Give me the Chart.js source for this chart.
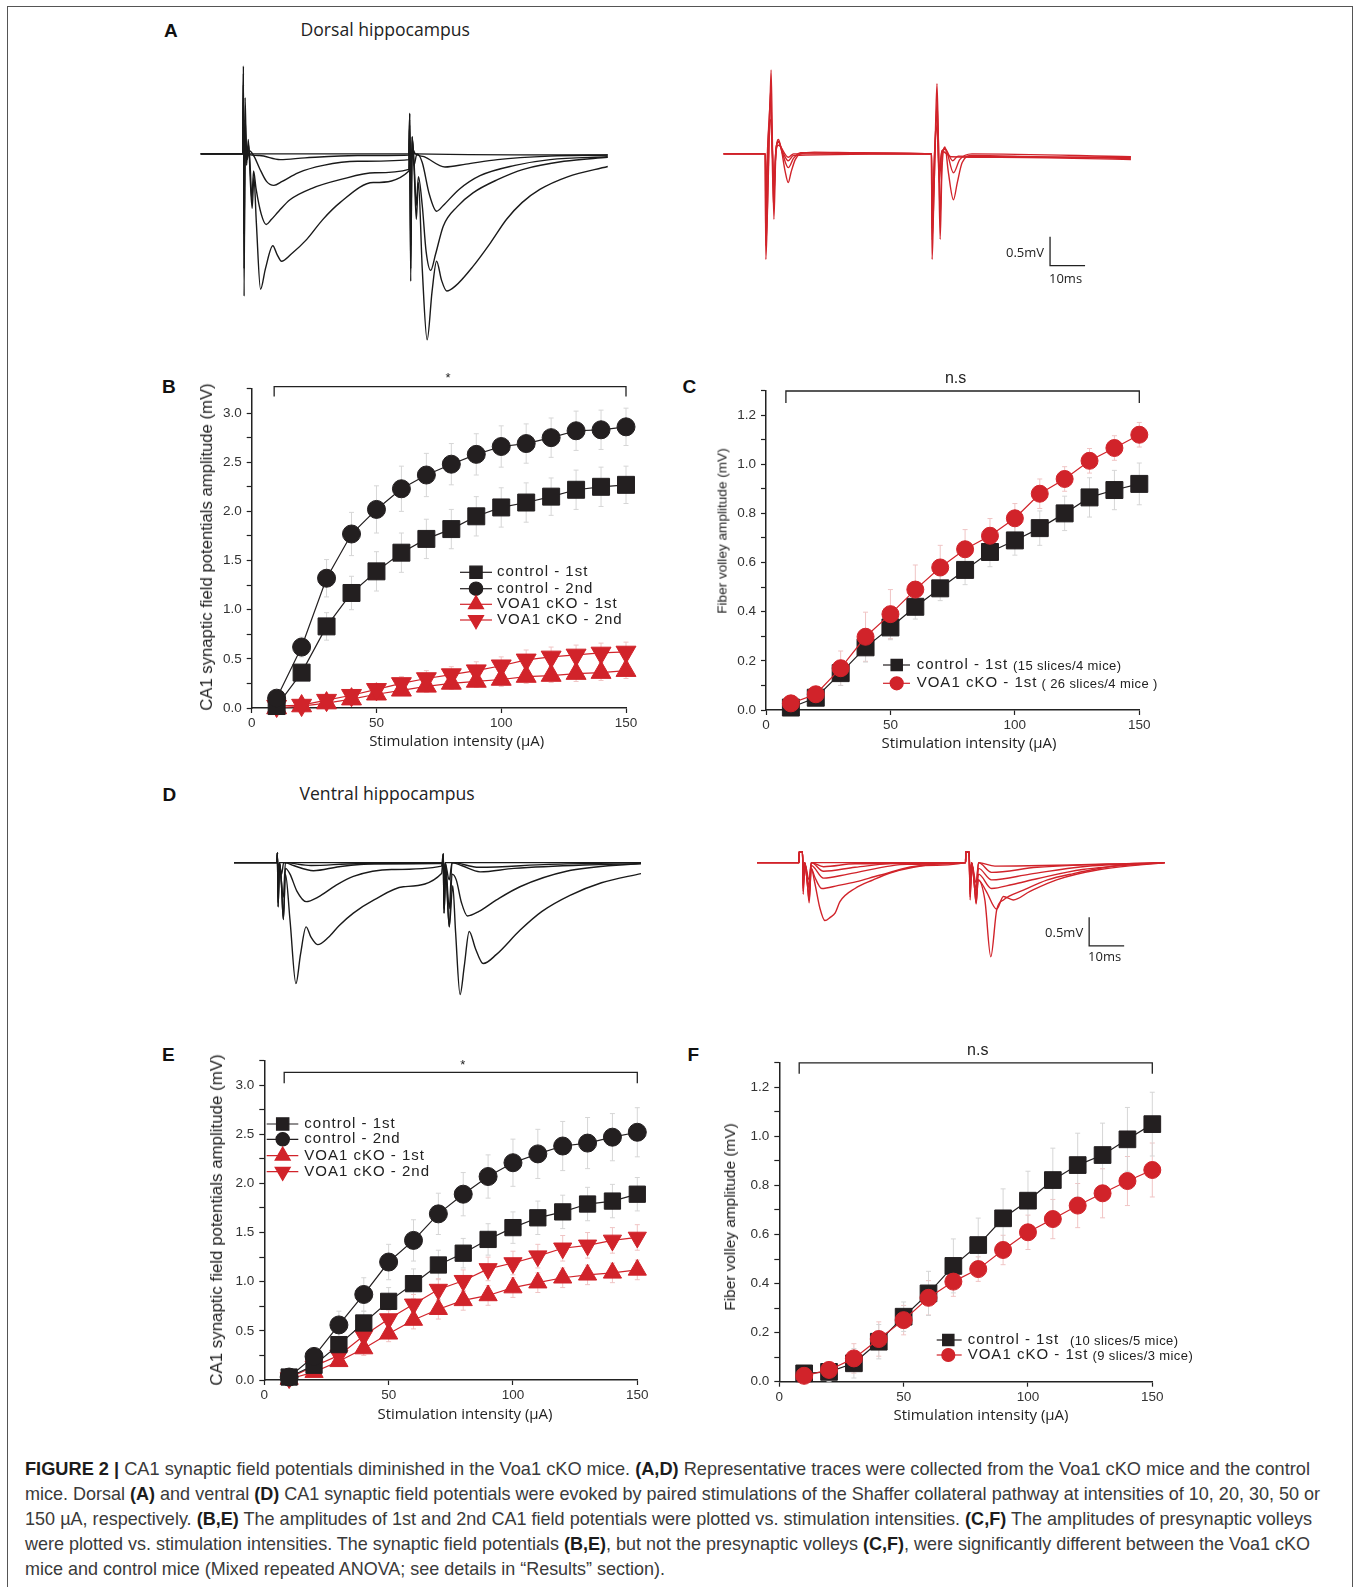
<!DOCTYPE html>
<html>
<head>
<meta charset="utf-8">
<script src="https://cdn.jsdelivr.net/npm/chart.js@4.4.1/dist/chart.umd.min.js"></script>
<style>
  body { margin: 0; background: #fff; width: 1356px; height: 1587px; position: relative; overflow: hidden; font-family: "Liberation Sans", Arial, sans-serif; }
  .frame { position: absolute; left: 7px; top: 6px; width: 1344px; height: 1620px; border: 1.5px solid #555; }
  canvas { position: absolute; }
  .lbl { position: absolute; font-weight: bold; font-size: 19px; line-height: 19px; color: #111; }
  .head { position: absolute; font-family: "Open Sans", sans-serif; font-size: 17.6px; line-height: 17.6px; color: #222; white-space: nowrap; }
  .xt { position: absolute; font-family: "Open Sans", sans-serif; font-size: 15px; color: #222; white-space: nowrap; transform: translate(-50%, -50%); }
  .yt { position: absolute; color: #222; white-space: nowrap; transform: translate(-50%, -50%) rotate(-90deg); }
  .cap { position: absolute; left: 25px; top: 1455.8px; font-size: 19px; line-height: 25px; color: #3a3a3a; }
  .cap div { white-space: nowrap; transform-origin: 0 50%; width: max-content; }
  .cap b { color: #1c1c1c; }
</style>
</head>
<body>
<div class="frame"></div>

<div class="lbl" style="left:164px;top:21px">A</div>
<div class="head" style="left:300.5px;top:21px">Dorsal hippocampus</div>
<div class="lbl" style="left:162px;top:377.2px">B</div>
<div class="lbl" style="left:682.5px;top:377.2px">C</div>
<div class="lbl" style="left:162.5px;top:784.7px">D</div>
<div class="head" style="left:299.5px;top:785.2px">Ventral hippocampus</div>
<div class="lbl" style="left:162px;top:1044.6px">E</div>
<div class="lbl" style="left:687.5px;top:1044.6px">F</div>

<canvas id="traceA1"></canvas>
<canvas id="traceA2"></canvas>
<canvas id="traceD1"></canvas>
<canvas id="traceD2"></canvas>
<canvas id="chartB"></canvas>
<canvas id="chartC"></canvas>
<canvas id="chartE"></canvas>
<canvas id="chartF"></canvas>

<div class="yt" style="left:206.7px;top:546.7px;font-size:16.7px">CA1 synaptic field potentials amplitude (mV)</div>
<div class="xt" style="left:456.7px;top:740px">Stimulation intensity (μA)</div>
<div class="yt" style="left:721.7px;top:530.5px;font-size:13.6px">Fiber volley amplitude (mV)</div>
<div class="xt" style="left:969px;top:741.7px">Stimulation intensity (μA)</div>
<div class="yt" style="left:216.7px;top:1220px;font-size:16.9px">CA1 synaptic field potentials amplitude (mV)</div>
<div class="xt" style="left:465px;top:1412.7px">Stimulation intensity (μA)</div>
<div class="yt" style="left:730px;top:1217px;font-size:15.4px">Fiber volley amplitude (mV)</div>
<div class="xt" style="left:981px;top:1414px">Stimulation intensity (μA)</div>

<div class="cap">
  <div data-w="1285"><b>FIGURE 2 |</b> CA1 synaptic field potentials diminished in the Voa1 cKO mice. <b>(A,D)</b> Representative traces were collected from the Voa1 cKO mice and the control</div>
  <div data-w="1295">mice. Dorsal <b>(A)</b> and ventral <b>(D)</b> CA1 synaptic field potentials were evoked by paired stimulations of the Shaffer collateral pathway at intensities of 10, 20, 30, 50 or</div>
  <div data-w="1287">150 µA, respectively. <b>(B,E)</b> The amplitudes of 1st and 2nd CA1 field potentials were plotted vs. stimulation intensities. <b>(C,F)</b> The amplitudes of presynaptic volleys</div>
  <div data-w="1285">were plotted vs. stimulation intensities. The synaptic field potentials <b>(B,E)</b>, but not the presynaptic volleys <b>(C,F)</b>, were significantly different between the Voa1 cKO</div>
  <div data-w="640">mice and control mice (Mixed repeated ANOVA; see details in “Results” section).</div>
</div>

<script>
// stimulation intensities (µA)
const intensity = [10, 20, 30, 40, 50, 60, 70, 80, 90, 100, 110, 120, 130, 140, 150];

// B: dorsal CA1 field potentials (mV)
const dorsalCtrl1 = [0.02, 0.36, 0.83, 1.17, 1.39, 1.58, 1.72, 1.82, 1.95, 2.04, 2.09, 2.15, 2.22, 2.25, 2.27];
const dorsalCtrl1Err = [0.02, 0.07, 0.14, 0.17, 0.20, 0.20, 0.20, 0.20, 0.20, 0.20, 0.20, 0.19, 0.20, 0.20, 0.19];
const dorsalCtrl2 = [0.10, 0.62, 1.32, 1.77, 2.02, 2.23, 2.37, 2.48, 2.58, 2.66, 2.69, 2.75, 2.82, 2.83, 2.86];
const dorsalCtrl2Err = [0.03, 0.10, 0.19, 0.22, 0.24, 0.23, 0.22, 0.21, 0.21, 0.21, 0.20, 0.20, 0.20, 0.20, 0.19];
const dorsalKo1 = [0.00, 0.02, 0.05, 0.09, 0.14, 0.18, 0.22, 0.25, 0.27, 0.29, 0.32, 0.33, 0.35, 0.36, 0.38];
const dorsalKo1Err = [0.01, 0.02, 0.03, 0.04, 0.05, 0.05, 0.06, 0.06, 0.06, 0.07, 0.07, 0.07, 0.08, 0.08, 0.08];
const dorsalKo2 = [0.02, 0.03, 0.08, 0.13, 0.19, 0.25, 0.30, 0.34, 0.38, 0.43, 0.49, 0.52, 0.54, 0.56, 0.57];
const dorsalKo2Err = [0.01, 0.02, 0.04, 0.05, 0.06, 0.07, 0.08, 0.08, 0.09, 0.09, 0.10, 0.10, 0.10, 0.10, 0.10];

// C: dorsal fiber volley (mV)
const dorsalFvCtrl = [0.01, 0.05, 0.15, 0.255, 0.336, 0.42, 0.495, 0.57, 0.643, 0.69, 0.74, 0.80, 0.865, 0.895, 0.92];
const dorsalFvCtrlErr = [0.02, 0.03, 0.05, 0.06, 0.05, 0.05, 0.05, 0.06, 0.06, 0.06, 0.07, 0.07, 0.08, 0.08, 0.085];
const dorsalFvKo = [0.027, 0.064, 0.17, 0.298, 0.39, 0.49, 0.58, 0.654, 0.709, 0.78, 0.88, 0.94, 1.014, 1.066, 1.12];
const dorsalFvKoErr = [0.02, 0.03, 0.07, 0.10, 0.10, 0.10, 0.09, 0.08, 0.07, 0.06, 0.06, 0.05, 0.05, 0.05, 0.05];

// E: ventral CA1 field potentials (mV)
const ventralCtrl1 = [0.03, 0.15, 0.36, 0.58, 0.80, 0.98, 1.17, 1.29, 1.43, 1.55, 1.65, 1.71, 1.79, 1.82, 1.89];
const ventralCtrl1Err = [0.02, 0.05, 0.08, 0.12, 0.14, 0.15, 0.15, 0.15, 0.16, 0.16, 0.17, 0.17, 0.17, 0.17, 0.17];
const ventralCtrl2 = [0.03, 0.24, 0.56, 0.87, 1.20, 1.42, 1.69, 1.89, 2.07, 2.21, 2.30, 2.38, 2.41, 2.47, 2.52];
const ventralCtrl2Err = [0.03, 0.08, 0.14, 0.17, 0.18, 0.21, 0.21, 0.22, 0.22, 0.24, 0.25, 0.25, 0.26, 0.24, 0.25];
const ventralKo1 = [0.01, 0.08, 0.19, 0.32, 0.47, 0.61, 0.72, 0.81, 0.86, 0.94, 0.99, 1.04, 1.07, 1.09, 1.12];
const ventralKo1Err = [0.01, 0.03, 0.05, 0.07, 0.08, 0.09, 0.10, 0.10, 0.10, 0.10, 0.10, 0.10, 0.10, 0.10, 0.10];
const ventralKo2 = [0.02, 0.14, 0.25, 0.45, 0.62, 0.77, 0.92, 1.01, 1.13, 1.19, 1.26, 1.34, 1.37, 1.42, 1.45];
const ventralKo2Err = [0.01, 0.04, 0.06, 0.08, 0.09, 0.10, 0.11, 0.11, 0.12, 0.12, 0.12, 0.13, 0.13, 0.13, 0.13];

// F: ventral fiber volley (mV)
const ventralFvCtrl = [0.034, 0.04, 0.075, 0.163, 0.265, 0.36, 0.472, 0.557, 0.666, 0.738, 0.822, 0.883, 0.924, 0.988, 1.05];
const ventralFvCtrlErr = [0.02, 0.04, 0.06, 0.07, 0.06, 0.09, 0.11, 0.11, 0.12, 0.12, 0.13, 0.13, 0.13, 0.13, 0.13];
const ventralFvKo = [0.024, 0.048, 0.095, 0.174, 0.251, 0.342, 0.408, 0.459, 0.537, 0.609, 0.663, 0.718, 0.768, 0.818, 0.863];
const ventralFvKoErr = [0.02, 0.03, 0.06, 0.07, 0.06, 0.07, 0.06, 0.05, 0.06, 0.07, 0.08, 0.09, 0.10, 0.10, 0.11];

// example traces: [time ms, mV] key points
const dorsalCtrlTraces = [
  [[0.2,0],[12.2,0],[12.4,0.5],[12.6,-0.3],[13,0.05],[14,0],[59.7,0],[59.9,0.3],[60.2,-0.3],[60.6,0.02],[61.5,0],[116.5,-0.02]],
  [[0.2,0],[12.2,0],[12.4,0.9],[12.6,-0.8],[12.9,0.2],[13.5,0],[17,-0.03],[22.9,-0.1],[30,-0.07],[45,-0.03],[59.7,-0.02],[59.9,0.5],[60.2,-0.9],[60.6,0.1],[61.5,0],[64,-0.05],[70,-0.23],[76,-0.18],[85,-0.1],[100,-0.04],[116.5,-0.02]],
  [[0.2,0],[12.2,0],[12.4,1.2],[12.6,-1.4],[12.9,0.4],[13.4,-0.1],[14.2,0.05],[15.5,-0.05],[17,-0.25],[19,-0.48],[21.1,-0.55],[23.5,-0.48],[28,-0.33],[35.2,-0.2],[45,-0.13],[59.7,-0.1],[59.9,0.7],[60.2,-1.6],[60.6,0.3],[61.1,-0.2],[62,0],[63.5,-0.15],[65.5,-0.7],[67.6,-1.0],[69.5,-0.9],[74,-0.62],[80,-0.38],[90,-0.2],[100,-0.1],[116.5,-0.05]],
  [[0.2,0],[12.2,0],[12.4,1.4],[12.6,-2.0],[12.9,0.6],[13.4,-0.1],[13.9,0.15],[14.4,-0.3],[14.8,-0.8],[15.3,-0.3],[16,-0.6],[17.5,-1.05],[18.9,-1.23],[20.3,-1.15],[22.5,-1.0],[25.7,-0.8],[32,-0.6],[40,-0.45],[50,-0.33],[59.7,-0.27],[59.9,0.6],[60.2,-2.0],[60.6,0.3],[61.2,-0.2],[61.8,-0.9],[62.4,-0.4],[63.5,-0.9],[64.6,-1.7],[65.9,-2.03],[67.3,-1.75],[69.5,-1.26],[73.5,-0.92],[78,-0.68],[85,-0.45],[92.4,-0.27],[104,-0.13],[116.5,-0.06]],
  [[0.2,0],[12.2,0],[12.4,1.53],[12.6,-2.48],[12.9,0.98],[13.3,-0.2],[13.8,0.25],[14.4,-0.5],[14.9,-0.95],[15.4,-0.4],[16.1,-1.2],[17.3,-2.36],[18.7,-2.0],[20.8,-1.6],[22,-1.75],[23.3,-1.87],[26,-1.75],[30.5,-1.49],[35,-1.15],[40,-0.85],[49.5,-0.5],[59.7,-0.3],[59.9,0.71],[60.2,-2.22],[60.6,0.28],[61.2,-0.3],[61.8,-1.14],[62.4,-0.5],[63.5,-2.0],[64.9,-3.24],[66.3,-2.4],[67.6,-1.87],[69,-2.2],[70.5,-2.39],[73,-2.3],[78,-1.96],[83,-1.55],[87.6,-1.14],[92,-0.85],[97.1,-0.62],[105,-0.4],[116.5,-0.22]]
];
const dorsalKoTraces = [
  [[1,0],[12.9,0],[13.1,-1.84],[13.6,-0.9],[14.2,0.6],[14.6,1.46],[15.0,0.1],[15.4,-1.14],[15.9,-0.1],[16.7,0.25],[17.6,0.05],[18.6,-0.3],[19.5,-0.5],[20.3,-0.32],[21.5,-0.1],[23,0],[27,0.03],[40,0.02],[60.4,0],[60.6,-1.84],[61.0,-1.0],[61.6,0.5],[62.0,1.22],[62.4,0.2],[62.9,-1.49],[63.4,-0.3],[64.3,0.12],[65.2,-0.3],[66.7,-0.8],[67.8,-0.5],[69.2,-0.15],[72,-0.03],[90,-0.05],[117.4,-0.08]],
  [[1,0],[12.9,0],[13.1,-1.6],[13.6,-0.8],[14.2,0.8],[14.5,1.1],[14.9,0],[15.3,-0.9],[15.9,0],[16.7,0.22],[17.8,0.02],[19.5,-0.24],[21,-0.08],[23,0.02],[40,0.01],[60.4,0],[60.6,-1.5],[61.2,-0.5],[62.0,0.9],[62.5,0],[62.9,-1.1],[63.5,0],[64.3,0.1],[66.7,-0.33],[68.5,-0.1],[72,0],[117.4,-0.05]],
  [[1,0],[13.0,0],[13.1,-1.3],[13.6,0],[14.4,0.9],[15,0],[15.4,-0.7],[16,0.1],[16.7,0.2],[18,0.02],[19.5,-0.12],[21,-0.03],[60.5,0],[60.6,-1.3],[61.3,0],[62,0.7],[62.6,-0.5],[63.4,0.05],[64.3,0.08],[66.5,-0.12],[68,-0.04],[90,-0.06],[117.4,-0.06]],
  [[1,0],[13.0,0],[13.1,-1.0],[13.6,0.1],[14.4,0.6],[15,0],[15.4,-0.5],[16,0.05],[16.7,0.15],[19.5,-0.06],[21,0],[60.5,0],[60.6,-1.0],[61.3,0],[62,0.5],[62.6,-0.3],[63.4,0.05],[66,-0.05],[80,-0.06],[117.4,-0.1]]
];
const ventralCtrlTraces = [
  [[0,0],[12.3,0],[12.4,0.17],[12.6,-0.5],[12.9,0],[59.7,0],[59.8,0.15],[60,-0.5],[60.3,0],[116.3,0]],
  [[0,0],[12.3,0],[12.4,0.17],[12.6,-0.6],[12.9,0],[13.6,-0.2],[14.2,0],[22,-0.05],[35,-0.02],[59.7,0],[59.8,0.15],[60,-0.6],[60.3,0],[61.5,-0.3],[62.3,0],[70,-0.08],[90,-0.03],[116.3,0]],
  [[0,0],[12.3,0],[12.4,0.17],[12.6,-0.7],[12.9,0],[14.1,-0.6],[14.7,0],[17,-0.05],[22.7,-0.14],[30,-0.07],[40,-0.02],[59.7,-0.01],[59.8,0.15],[60,-0.8],[60.4,0],[61.5,-0.8],[62.3,0],[65,-0.05],[70.3,-0.16],[80,-0.1],[100,-0.04],[116.3,-0.02]],
  [[0,0],[12.3,0],[12.4,0.17],[12.6,-0.77],[13,0],[13.5,-0.3],[14.1,-0.99],[14.7,-0.1],[16,-0.2],[18,-0.5],[20.6,-0.68],[24,-0.6],[29,-0.4],[34.1,-0.24],[45,-0.12],[59.3,-0.06],[59.8,0.15],[60,-0.88],[60.5,-0.1],[61.5,-1.12],[62.3,-0.2],[63.5,-0.3],[65,-0.7],[66.7,-0.93],[70,-0.85],[75,-0.65],[81.7,-0.42],[95,-0.15],[116.3,-0.01]],
  [[0,0],[12.3,0],[12.4,0.17],[12.6,-0.77],[13,0],[13.5,-0.3],[14.1,-0.99],[14.7,-0.2],[16,-1.0],[17.7,-2.11],[19,-1.6],[20.6,-1.12],[22,-1.3],[23.9,-1.43],[27,-1.3],[30,-1.1],[34.1,-0.88],[40,-0.65],[48.4,-0.42],[59.3,-0.19],[59.8,0.1],[60,-0.88],[60.5,-0.2],[61.5,-1.12],[62.5,-0.4],[63.3,-1.2],[64.6,-2.3],[65.8,-1.8],[67.2,-1.2],[69,-1.5],[71.2,-1.76],[75,-1.6],[81.7,-1.18],[88,-0.85],[96,-0.57],[105,-0.35],[116.3,-0.19]]
];
const ventralKoTraces = [
  [[2,0],[14.0,0],[14.05,0.19],[15.0,0.19],[15.2,-0.55],[15.6,0],[16.3,-0.3],[16.9,-0.7],[17.5,-0.1],[18.5,-0.35],[20,-0.8],[21.4,-1.01],[23,-0.95],[24.3,-0.88],[25.7,-0.68],[30,-0.45],[35.2,-0.3],[40,-0.18],[46.7,-0.08],[55,-0.02],[61.6,0],[61.65,0.19],[62.6,0.19],[62.9,-0.65],[63.3,0],[64,-0.3],[64.6,-0.72],[65.2,-0.3],[67.1,-0.65],[68.8,-1.64],[70.5,-0.82],[72.4,-0.65],[78.1,-0.48],[85,-0.3],[92.4,-0.19],[105,-0.05],[118.5,0]],
  [[2,0],[14.0,0],[14.05,0.19],[15.0,0.19],[15.2,-0.5],[15.6,0],[16.3,-0.3],[16.9,-0.65],[17.5,-0.1],[18.5,-0.25],[20.5,-0.45],[25,-0.4],[30.5,-0.33],[37,-0.22],[49.5,-0.05],[61.6,0],[61.65,0.19],[62.6,0.19],[62.9,-0.6],[63.3,0],[64,-0.3],[64.6,-0.7],[65.2,-0.3],[67.5,-0.5],[70.5,-0.81],[72.4,-0.59],[75.2,-0.65],[80,-0.5],[87.6,-0.3],[100,-0.12],[118.5,0]],
  [[2,0],[14.0,0],[14.05,0.19],[15.0,0.19],[15.2,-0.45],[15.6,0],[16.9,-0.55],[17.5,-0.05],[21,-0.27],[28,-0.2],[45,-0.03],[61.6,0],[61.65,0.19],[62.6,0.19],[62.9,-0.55],[63.3,0],[64.6,-0.6],[65.3,-0.2],[69,-0.45],[75,-0.38],[82,-0.28],[95,-0.12],[118.5,0]],
  [[2,0],[14.0,0],[14.05,0.19],[15.0,0.19],[15.2,-0.4],[15.6,0],[16.9,-0.45],[17.5,0],[21,-0.15],[30,-0.08],[45,0],[61.6,0],[61.65,0.19],[62.6,0.19],[62.9,-0.5],[63.3,0],[64.6,-0.5],[65.3,-0.1],[69,-0.3],[80,-0.2],[95,-0.07],[118.5,0]],
  [[2,0],[14.0,0],[14.05,0.19],[15.0,0.19],[15.2,-0.35],[15.6,0],[16.9,-0.4],[17.5,0],[21,-0.07],[30,-0.02],[61.6,0],[61.65,0.19],[62.6,0.19],[62.9,-0.45],[63.3,0],[64.6,-0.45],[65.3,0],[69,-0.17],[82,-0.08],[118.5,0]],
  [[2,0],[14.0,0],[14.05,0.19],[15.0,0.19],[15.2,-0.3],[15.6,0],[16.9,-0.3],[17.5,0],[61.6,0],[61.65,0.19],[62.6,0.19],[62.9,-0.4],[63.3,0],[64.6,-0.35],[65.3,0],[70,-0.06],[118.5,0]]
];

const BLACK = '#231f20';
const RED = '#d1232a';
const tickFont = { family: '"Liberation Sans", Arial, sans-serif', size: 13.5 };

// light error bars under the markers
const errBars = {
  id: 'errBars',
  beforeDatasetsDraw(chart) {
    const ctx = chart.ctx, ys = chart.scales.y;
    chart.data.datasets.forEach((ds, i) => {
      if (!ds.err) return;
      const meta = chart.getDatasetMeta(i);
      ctx.save();
      ctx.strokeStyle = ds.errColor;
      ctx.lineWidth = 1;
      meta.data.forEach((pt, j) => {
        const v = ds.data[j].y, e = ds.err[j];
        const y1 = ys.getPixelForValue(v + e), y2 = ys.getPixelForValue(v - e);
        ctx.beginPath();
        ctx.moveTo(pt.x, y1); ctx.lineTo(pt.x, y2);
        ctx.moveTo(pt.x - 2.5, y1); ctx.lineTo(pt.x + 2.5, y1);
        ctx.moveTo(pt.x - 2.5, y2); ctx.lineTo(pt.x + 2.5, y2);
        ctx.stroke();
      });
      ctx.restore();
    });
  }
};

// significance bracket over the whole intensity range
const bracket = {
  id: 'bracket',
  afterDraw(chart, args, o) {
    if (!o || !o.label) return;
    const ctx = chart.ctx, xs = chart.scales.x, ys = chart.scales.y;
    const x1 = xs.getPixelForValue(o.from), x2 = xs.getPixelForValue(o.to), y = ys.getPixelForValue(o.at);
    ctx.save();
    ctx.strokeStyle = '#222';
    ctx.lineWidth = 1.3;
    ctx.beginPath();
    ctx.moveTo(x1, y + o.drop); ctx.lineTo(x1, y); ctx.lineTo(x2, y); ctx.lineTo(x2, y + o.drop);
    ctx.stroke();
    ctx.fillStyle = '#222';
    ctx.font = o.size + 'px "Liberation Sans", Arial, sans-serif';
    ctx.textAlign = 'center';
    ctx.textBaseline = 'middle';
    ctx.fillText(o.label, (x1 + x2) / 2 + (o.shift || 0), y - o.gap);
    ctx.restore();
  }
};

// hand placed legend (line + marker + label + optional note)
const figLegend = {
  id: 'figLegend',
  afterDraw(chart, args, o) {
    if (!o || !o.items) return;
    const ctx = chart.ctx;
    const dx = -o.box[0], dy = -o.box[1];
    o.items.forEach((it, k) => {
      const y = o.rows[k] + dy;
      ctx.save();
      ctx.strokeStyle = it.color;
      ctx.lineWidth = 1.2;
      ctx.beginPath();
      ctx.moveTo(o.x0 + dx, y); ctx.lineTo(o.x1 + dx, y);
      ctx.stroke();
      ctx.fillStyle = it.color;
      ctx.strokeStyle = it.color;
      Chart.helpers.drawPoint(ctx, { pointStyle: it.style, rotation: it.rot || 0, radius: it.r, borderWidth: 1 }, o.mx + dx, y);
      ctx.fillStyle = '#222';
      ctx.textBaseline = 'middle';
      ctx.textAlign = 'left';
      ctx.font = o.size + 'px "Liberation Sans", Arial, sans-serif';
      if ('letterSpacing' in ctx) ctx.letterSpacing = o.spacing + 'px';
      ctx.fillText(it.label, o.tx + dx, y);
      if (it.note) {
        const w = ctx.measureText(it.label).width;
        ctx.font = o.noteSize + 'px "Liberation Sans", Arial, sans-serif';
        if ('letterSpacing' in ctx) ctx.letterSpacing = o.noteSpacing + 'px';
        ctx.fillText(it.note, o.tx + dx + w + (it.gap || 4), y + 1);
      }
      ctx.restore();
    });
  }
};

function series(values, err, color, style, r, rot, errColor) {
  return {
    data: intensity.map((x, i) => ({ x: x, y: values[i] })),
    err: err,
    errColor: errColor,
    borderColor: color,
    borderWidth: 1.2,
    backgroundColor: color,
    pointStyle: style,
    pointRadius: r,
    pointRotation: rot || 0,
    pointBackgroundColor: color,
    pointBorderColor: color,
    pointBorderWidth: 1,
    tension: 0,
    clip: false
  };
}

function plotChart(id, box, area, yMax, yStep, yMajor, datasets, legend, brk) {
  const cv = document.getElementById(id);
  cv.width = box[2]; cv.height = box[3];
  cv.style.left = box[0] + 'px'; cv.style.top = box[1] + 'px';
  const yW = area[0] - box[0];
  const xH = box[1] + box[3] - area[3];
  legend.box = box;
  const axisCommon = {
    grid: { drawOnChartArea: false, tickLength: 5, color: '#222', tickWidth: 1.2 },
    border: { color: '#222', width: 1.5 }
  };
  return new Chart(cv, {
    type: 'line',
    data: { datasets: datasets },
    options: {
      responsive: false,
      animation: false,
      devicePixelRatio: 1,
      layout: { padding: { top: area[1] - box[1], right: box[0] + box[2] - area[2], left: 0, bottom: 0 } },
      plugins: { legend: { display: false }, tooltip: { enabled: false }, figLegend: legend, bracket: brk },
      scales: {
        x: Object.assign({
          type: 'linear', min: 0, max: 150,
          ticks: { stepSize: 50, padding: 2, font: tickFont, color: '#333', maxRotation: 0 },
          afterFit: s => { s.height = xH; }
        }, axisCommon),
        y: Object.assign({
          type: 'linear', min: 0, max: yMax,
          ticks: {
            stepSize: yStep, padding: 5, font: tickFont, color: '#333',
            callback: v => (Math.abs(v / yMajor - Math.round(v / yMajor)) < 1e-6 && v < yMax - 1e-6) ? v.toFixed(1) : ''
          },
          afterFit: s => { s.width = yW; }
        }, axisCommon)
      }
    },
    plugins: [errBars, figLegend, bracket]
  });
}

// scale bar for the trace panels
const scaleBar = {
  id: 'scaleBar',
  afterDraw(chart, args, o) {
    if (!o || o.t === undefined) return;
    const ctx = chart.ctx, xs = chart.scales.x, ys = chart.scales.y;
    const x = xs.getPixelForValue(o.t), x2 = xs.getPixelForValue(o.t + 10);
    const yTop = ys.getPixelForValue(o.v), yBot = ys.getPixelForValue(o.v - 0.5);
    ctx.save();
    ctx.strokeStyle = '#222';
    ctx.lineWidth = 1.3;
    ctx.beginPath();
    ctx.moveTo(x, yTop); ctx.lineTo(x, yBot); ctx.lineTo(x2, yBot);
    ctx.stroke();
    ctx.fillStyle = '#222';
    ctx.font = '13px "Open Sans", sans-serif';
    ctx.textBaseline = 'middle';
    ctx.textAlign = 'right';
    ctx.fillText('0.5mV', x - 6, (yTop + yBot) / 2 + 2);
    ctx.textAlign = 'center';
    ctx.fillText('10ms', (x + x2) / 2 - 2, yBot + o.below);
    ctx.restore();
  }
};

function traceChart(id, box, tMax, vMin, vMax, traces, color, bar) {
  const cv = document.getElementById(id);
  cv.width = box[2]; cv.height = box[3];
  cv.style.left = box[0] + 'px'; cv.style.top = box[1] + 'px';
  return new Chart(cv, {
    type: 'line',
    data: {
      datasets: traces.map(tr => ({
        data: tr.map(p => ({ x: p[0], y: p[1] })),
        borderColor: color,
        borderWidth: 1.4,
        pointRadius: 0,
        cubicInterpolationMode: 'monotone',
        clip: false
      }))
    },
    options: {
      responsive: false,
      animation: false,
      devicePixelRatio: 1,
      layout: { padding: 0 },
      plugins: { legend: { display: false }, tooltip: { enabled: false }, scaleBar: bar || {} },
      scales: {
        x: { type: 'linear', min: 0, max: tMax, display: false },
        y: { type: 'linear', min: vMin, max: vMax, display: false }
      }
    },
    plugins: [scaleBar]
  });
}

function draw() {
  // A / D traces (3.5 px per ms, 57.4 px per mV)
  traceChart('traceA1', [200, 62, 408, 287], 408 / 3.5, -3.4, 1.6, dorsalCtrlTraces, '#1a1a1a');
  traceChart('traceA2', [720, 62, 411, 287], 411 / 3.5, -3.4, 1.6, dorsalKoTraces, RED,
    { t: 94.3, v: -1.446, below: 14 });
  traceChart('traceD1', [234, 834, 407, 172], 407 / 3.5, -2.5, 0.5, ventralCtrlTraces, '#1a1a1a');
  traceChart('traceD2', [750, 834, 415, 172], 415 / 3.5, -2.5, 0.5, ventralKoTraces, RED,
    { t: 96.9, v: -0.951, below: 11 });

  const greyErr = '#d6d6d6', pinkErr = '#f0c4c4';
  const legendText = { size: 15, spacing: 1, noteSize: 13, noteSpacing: 0.4 };

  plotChart('chartB', [140, 350, 520, 410], [251.7, 388.5, 626, 708], 3.25, 0.25, 0.5, [
    series(dorsalCtrl2, dorsalCtrl2Err, BLACK, 'circle', 9, 0, greyErr),
    series(dorsalCtrl1, dorsalCtrl1Err, BLACK, 'rect', 12, 0, greyErr),
    series(dorsalKo2, dorsalKo2Err, RED, 'triangle', 11.5, 180, pinkErr),
    series(dorsalKo1, dorsalKo1Err, RED, 'triangle', 11.5, 0, pinkErr)
  ], Object.assign({
    x0: 460, x1: 492, mx: 476, tx: 497,
    rows: [572.3, 588.7, 604.3, 620],
    items: [
      { label: 'control - 1st', color: BLACK, style: 'rect', r: 8.7 },
      { label: 'control - 2nd', color: BLACK, style: 'circle', r: 6.7 },
      { label: 'VOA1 cKO - 1st', color: RED, style: 'triangle', r: 8.7 },
      { label: 'VOA1 cKO - 2nd', color: RED, style: 'triangle', r: 8.7, rot: 180 }
    ]
  }, legendText), { from: 9, to: 150, at: 3.27, drop: 10, label: '*', size: 13, gap: 8, shift: -2 });

  plotChart('chartC', [700, 355, 480, 405], [766, 390.5, 1139.3, 710], 1.3, 0.1, 0.2, [
    series(dorsalFvKo, dorsalFvKoErr, RED, 'circle', 8.5, 0, pinkErr),
    series(dorsalFvCtrl, dorsalFvCtrlErr, BLACK, 'rect', 12, 0, greyErr)
  ], Object.assign({
    x0: 883, x1: 910, mx: 896.7, tx: 916.7,
    rows: [665, 683.3],
    items: [
      { label: 'control - 1st', note: '(15 slices/4 mice)', gap: 5, color: BLACK, style: 'rect', r: 8 },
      { label: 'VOA1 cKO - 1st', note: '( 26 slices/4 mice )', gap: 4, color: RED, style: 'circle', r: 6.5 }
    ]
  }, legendText), { from: 8, to: 150, at: 1.298, drop: 12, label: 'n.s', size: 16, gap: 12, shift: -7 });

  plotChart('chartE', [150, 1040, 510, 390], [264.3, 1060.5, 637.3, 1380], 3.25, 0.25, 0.5, [
    series(ventralCtrl2, ventralCtrl2Err, BLACK, 'circle', 9, 0, greyErr),
    series(ventralCtrl1, ventralCtrl1Err, BLACK, 'rect', 11.5, 0, greyErr),
    series(ventralKo2, ventralKo2Err, RED, 'triangle', 10.5, 180, pinkErr),
    series(ventralKo1, ventralKo1Err, RED, 'triangle', 10.5, 0, pinkErr)
  ], Object.assign({
    x0: 266.7, x1: 298.3, mx: 282.7, tx: 304.3,
    rows: [1124, 1139.3, 1155.7, 1171.7],
    items: [
      { label: 'control - 1st', color: BLACK, style: 'rect', r: 8.7 },
      { label: 'control - 2nd', color: BLACK, style: 'circle', r: 6.7 },
      { label: 'VOA1 cKO - 1st', color: RED, style: 'triangle', r: 8.7 },
      { label: 'VOA1 cKO - 2nd', color: RED, style: 'triangle', r: 8.7, rot: 180 }
    ]
  }, legendText), { from: 8, to: 150, at: 3.13, drop: 11, label: '*', size: 13, gap: 7, shift: 2 });

  plotChart('chartF', [700, 1030, 510, 400], [779.3, 1062.8, 1152.3, 1381.7], 1.3, 0.1, 0.2, [
    series(ventralFvKo, ventralFvKoErr, RED, 'circle', 8.5, 0, pinkErr),
    series(ventralFvCtrl, ventralFvCtrlErr, BLACK, 'rect', 11.8, 0, greyErr)
  ], Object.assign({
    x0: 936.7, x1: 961.7, mx: 948.3, tx: 967.7,
    rows: [1340, 1355],
    items: [
      { label: 'control - 1st', note: '(10 slices/5 mice)', gap: 11, color: BLACK, style: 'rect', r: 8 },
      { label: 'VOA1 cKO - 1st', note: '(9 slices/3 mice)', gap: 4, color: RED, style: 'circle', r: 6.5 }
    ]
  }, legendText), { from: 8, to: 150, at: 1.3, drop: 11, label: 'n.s', size: 16, gap: 12, shift: 2 });

  // squeeze caption lines to the widths of the printed figure
  document.querySelectorAll('.cap div').forEach(d => {
    const w = d.getBoundingClientRect().width;
    const target = parseFloat(d.dataset.w);
    d.style.transform = 'scaleX(' + (target / w) + ')';
  });
}

if (document.fonts && document.fonts.ready) {
  document.fonts.ready.then(draw);
} else {
  window.addEventListener('load', draw);
}
</script>
</body>
</html>
